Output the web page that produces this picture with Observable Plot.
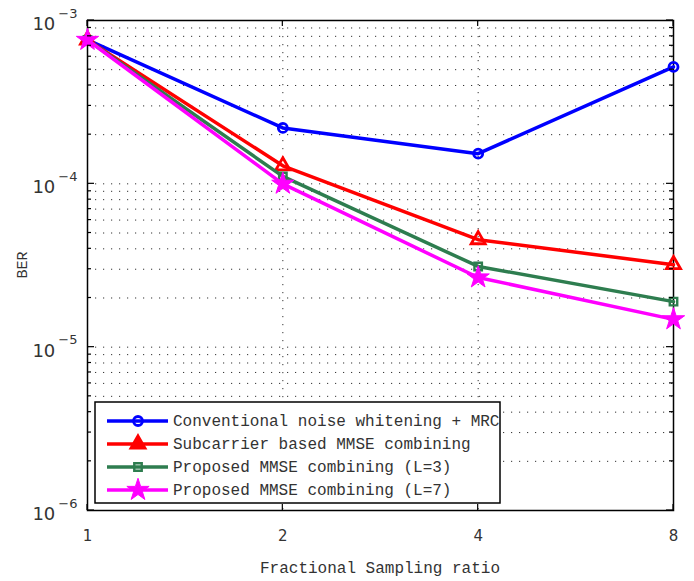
<!DOCTYPE html>
<html><head>
<meta charset="utf-8">
<script src="https://cdn.jsdelivr.net/npm/d3@7"></script>
<script src="https://cdn.jsdelivr.net/npm/@observablehq/plot@0.6"></script>
<style>body{margin:0;background:#fff}#wrap{width:694px;height:581px}</style>
</head><body><div id="wrap"></div>
<script>
const ratios = [1, 2, 4, 8];
const seriesNames = [
  "Conventional noise whitening + MRC",
  "Subcarrier based MMSE combining",
  "Proposed MMSE combining (L=3)",
  "Proposed MMSE combining (L=7)"
];
const berConventional = [7.6e-4, 2.2e-4, 1.53e-4, 5.2e-4];
const berSubcarrier   = [7.6e-4, 1.29e-4, 4.55e-5, 3.2e-5];
const berProposedL3   = [7.6e-4, 1.11e-4, 3.12e-5, 1.9e-5];
const berProposedL7   = [7.6e-4, 1.0e-4, 2.67e-5, 1.48e-5];
const colors = ["#0000ff", "#ff0000", "#2e7d4f", "#ff00ff"];
const symbols = ["circle", "triangle", "square", "star"];
const yMajor = [1e-6, 1e-5, 1e-4, 1e-3];

const allSeries = [berConventional, berSubcarrier, berProposedL3, berProposedL7];
const rows = [];
allSeries.forEach((vals, i) => vals.forEach((v, j) => rows.push({series: seriesNames[i], ratio: ratios[j], ber: v})));
const yMinor = [];
for (let e = -6; e <= -4; e++) for (let m = 2; m <= 9; m++) yMinor.push(m * Math.pow(10, e));

const dotStyle = [
  {r: 4.5, fill: "none", strokeWidth: 2.8},
  {r: 5.2, fill: "none", strokeWidth: 2.8},
  {r: 4.2, fill: "none", strokeWidth: 2.4},
  {r: 7, fill: "#ff00ff", strokeWidth: 1}
];
const gridStyle = {stroke: "#333", strokeOpacity: 1, strokeDasharray: "1.2,6.8", strokeWidth: 1};

const marks = [
  Plot.gridY(yMinor, gridStyle),
  Plot.gridY(yMajor, gridStyle),
  Plot.gridX([2, 4], gridStyle),
  Plot.axisY(yMajor, {anchor: "left", tickSize: 0, tickFormat: d => "10|" + Math.round(Math.log10(d)), tickPadding: 10, fontSize: 18, label: null}),
  Plot.axisX(ratios, {anchor: "bottom", tickSize: 0, tickPadding: 20, fontSize: 15, label: null, tickFormat: d => String(d)}),
  Plot.frame({stroke: "black", strokeWidth: 1.5}),
];
allSeries.forEach((vals, i) => {
  const data = rows.filter(r => r.series === seriesNames[i]);
  marks.push(Plot.line(data, {x: "ratio", y: "ber", stroke: colors[i], strokeWidth: 3.5}));
  marks.push(Plot.dot(data, {x: "ratio", y: "ber", symbol: () => symbols[i], stroke: colors[i], ...dotStyle[i]}));
});

const chart = Plot.plot({
  width: 694, height: 581,
  marginLeft: 87, marginRight: 21, marginTop: 20, marginBottom: 71,
  style: {fontFamily: "DejaVu Sans, sans-serif", color: "#333", background: "#fff", overflow: "visible"},
  x: {type: "log", base: 2, domain: [1, 8]},
  y: {type: "log", domain: [1e-6, 1e-3]},
  symbol: {type: "identity"},
  marks
});
document.getElementById("wrap").appendChild(chart);

const svg = d3.select(chart);
const sx = chart.scale("x"), sy = chart.scale("y");
const X0 = sx.apply(1), X1 = sx.apply(8), Y0 = sy.apply(1e-6), Y1 = sy.apply(1e-3);

// superscript exponents on y tick labels
svg.selectAll("text").each(function() {
  const t = d3.select(this);
  const s = t.text();
  if (s.includes("|")) {
    const exp = s.split("|")[1].replace("-", "\u2212");
    t.text(null);
    t.append("tspan").text("10").attr("dy", "0.2em");
    t.append("tspan").text(exp).attr("font-size", 13).attr("dy", "-0.95em").attr("dx", 3);
  }
});

// inward tick marks (MATLAB style)
const tg = svg.append("g").attr("stroke", "black").attr("stroke-width", 1.2);
yMajor.forEach(v => {
  const y = sy.apply(v);
  tg.append("line").attr("x1", X0).attr("x2", X0 + 7).attr("y1", y).attr("y2", y);
  tg.append("line").attr("x1", X1).attr("x2", X1 - 7).attr("y1", y).attr("y2", y);
});
yMinor.forEach(v => {
  const y = sy.apply(v);
  tg.append("line").attr("x1", X0).attr("x2", X0 + 4).attr("y1", y).attr("y2", y);
  tg.append("line").attr("x1", X1).attr("x2", X1 - 4).attr("y1", y).attr("y2", y);
});
ratios.forEach(v => {
  const x = sx.apply(v);
  tg.append("line").attr("x1", x).attr("x2", x).attr("y1", Y0).attr("y2", Y0 - 6);
  tg.append("line").attr("x1", x).attr("x2", x).attr("y1", Y1).attr("y2", Y1 + 6);
});

// axis labels
svg.append("text").attr("x", (X0 + X1) / 2).attr("y", 573).attr("text-anchor", "middle")
  .attr("font-family", "Liberation Mono, monospace").attr("font-size", 16).attr("fill", "#333")
  .text("Fractional Sampling ratio");
svg.append("text").attr("transform", "translate(27,265) rotate(-90)").attr("text-anchor", "middle")
  .attr("font-family", "Liberation Mono, monospace").attr("font-size", 15).attr("fill", "#333")
  .text("BER");

// legend
const lg = svg.append("g");
lg.append("rect").attr("x", 95).attr("y", 402).attr("width", 405).attr("height", 101)
  .attr("fill", "white").attr("stroke", "none");
const ys = [421, 444, 467, 490];
seriesNames.forEach((name, i) => {
  const y = ys[i];
  lg.append("line").attr("x1", 107).attr("x2", 168).attr("y1", y).attr("y2", y)
    .attr("stroke", colors[i]).attr("stroke-width", 3.5);
  const sym = [d3.symbolCircle, d3.symbolTriangle, d3.symbolSquare, d3.symbolStar][i];
  const st = dotStyle[i];
  lg.append("path").attr("d", d3.symbol(sym, st.r * st.r * Math.PI)())
    .attr("transform", `translate(138,${y})`)
    .attr("fill", i === 1 ? colors[i] : st.fill).attr("stroke", colors[i]).attr("stroke-width", st.strokeWidth);
  lg.append("text").attr("x", 173).attr("y", y + 5).attr("text-anchor", "start")
    .attr("font-family", "Liberation Mono, monospace")
    .attr("font-size", 16).attr("fill", "#333").text(name);
});
lg.append("rect").attr("x", 95).attr("y", 402).attr("width", 405).attr("height", 101)
  .attr("fill", "none").attr("stroke", "black").attr("stroke-width", 1.5);
</script>
</body></html>
